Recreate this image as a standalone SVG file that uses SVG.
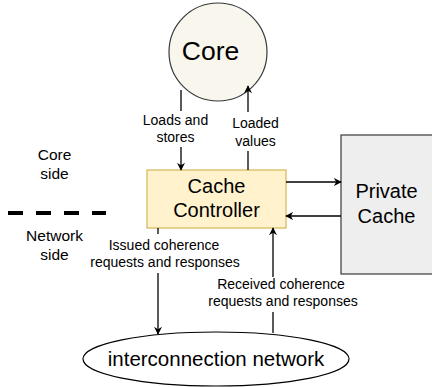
<svg xmlns="http://www.w3.org/2000/svg" width="432" height="387" viewBox="0 0 432 387">
  <defs>
    <marker id="arr" viewBox="0 0 10 10" refX="9" refY="5" markerWidth="8" markerHeight="8" markerUnits="userSpaceOnUse" orient="auto">
      <path d="M0,0 L10,5 L0,10 L3,5 Z" fill="#000"/>
    </marker>
    <style>
      text { font-family: "Liberation Sans", Arial, sans-serif; fill: #000; text-anchor: middle; }
      .lbl { font-size: 14px; }
      .side { font-size: 15.5px; }
      .node { font-size: 20px; }
      .edge { stroke: #000; stroke-width: 1.3; fill: none; marker-end: url(#arr); }
      .plain { stroke: #000; stroke-width: 1.3; fill: none; }
    </style>
  </defs>
  <rect width="432" height="387" fill="#fff"/>

  <g id="core">
    <circle cx="218" cy="52" r="49" fill="#f9f7ed" stroke="#36393d" stroke-width="1.2"/>
    <text x="210.5" y="60" font-size="26.5">Core</text>
  </g>

  <g id="cache-controller">
    <rect x="147" y="170" width="139" height="58" fill="#fff2cc" stroke="#d6b656" stroke-width="1.2"/>
    <text class="node" x="216.5" y="193">Cache</text>
    <text class="node" x="216.5" y="217">Controller</text>
  </g>

  <g id="private-cache">
    <rect x="341" y="135" width="96" height="139" fill="#eeeeee" stroke="#36393d" stroke-width="1.2"/>
    <text class="node" x="386.5" y="198">Private</text>
    <text class="node" x="386.5" y="223">Cache</text>
  </g>

  <g id="network">
    <ellipse cx="216" cy="359" rx="133" ry="27" fill="#fff" stroke="#000" stroke-width="1.2"/>
    <text x="216" y="366" font-size="20.5">interconnection network</text>
  </g>

  <g id="side-labels">
    <text class="side" x="54.5" y="160">Core</text>
    <text class="side" x="54.5" y="179">side</text>
    <line x1="8" y1="213" x2="106" y2="213" stroke="#000" stroke-width="4" stroke-dasharray="15,13"/>
    <text class="side" x="54.5" y="241">Network</text>
    <text class="side" x="54.5" y="260">side</text>
  </g>

  <g id="connectors">
    <!-- core -> controller -->
    <line class="plain" x1="181" y1="90" x2="181" y2="111"/>
    <line class="edge" x1="181" y1="147" x2="181" y2="170"/>
    <!-- controller -> core -->
    <line class="plain" x1="248" y1="170" x2="248" y2="151"/>
    <line class="edge" x1="248" y1="112" x2="248" y2="86"/>
    <!-- controller <-> private cache -->
    <line class="edge" x1="286" y1="182" x2="341" y2="182"/>
    <line class="edge" x1="341" y1="216" x2="286" y2="216"/>
    <!-- controller -> network -->
    <line class="plain" x1="158" y1="228" x2="158" y2="234"/>
    <line class="edge" x1="158" y1="273" x2="158" y2="334"/>
    <!-- network -> controller -->
    <line class="plain" x1="273" y1="333" x2="273" y2="312"/>
    <line class="edge" x1="273" y1="277" x2="273" y2="228"/>
  </g>

  <g id="connector-labels">
    <text class="lbl" x="175.5" y="125">Loads and</text>
    <text class="lbl" x="175.5" y="142">stores</text>
    <text class="lbl" x="255.5" y="128">Loaded</text>
    <text class="lbl" x="255.5" y="146">values</text>
    <text class="lbl" x="164" y="250">Issued coherence</text>
    <text class="lbl" x="165" y="267">requests and responses</text>
    <text class="lbl" x="281" y="289">Received coherence</text>
    <text class="lbl" x="283" y="306">requests and responses</text>
  </g>
</svg>
